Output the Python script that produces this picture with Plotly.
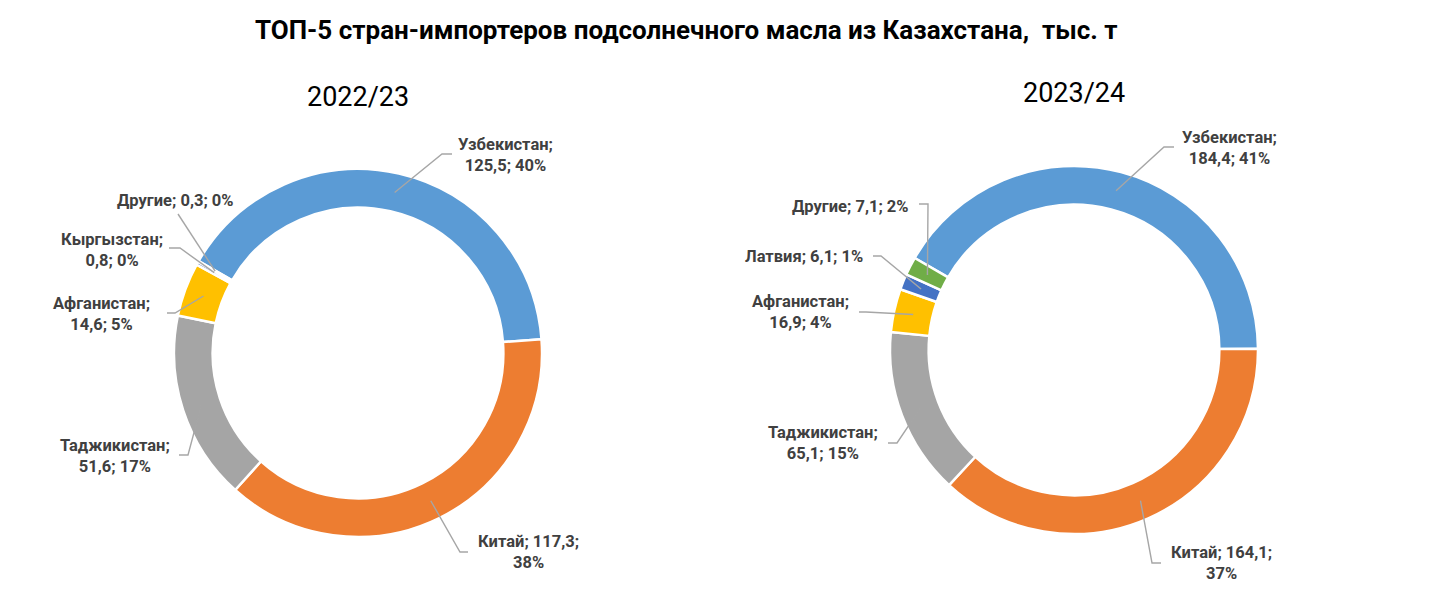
import math
import plotly.graph_objects as go

W, H = 1432, 591

# 2022/23
countries_1 = ["Узбекистан", "Китай", "Таджикистан", "Афганистан", "Кыргызстан", "Другие"]
values_1 = [125.5, 117.3, 51.6, 14.6, 0.8, 0.3]
shares_1 = [40, 38, 17, 5, 0, 0]

# 2023/24
countries_2 = ["Узбекистан", "Китай", "Таджикистан", "Афганистан", "Латвия", "Другие"]
values_2 = [184.4, 164.1, 65.1, 16.9, 6.1, 7.1]
shares_2 = [41, 37, 15, 4, 1, 2]

colors_1 = ["#5B9BD5", "#ED7D31", "#A5A5A5", "#FFC000", "#4472C4", "#70AD47"]
colors_2 = ["#5B9BD5", "#ED7D31", "#A5A5A5", "#FFC000", "#4472C4", "#70AD47"]

FONT = "Roboto"
ROT = -60
HOLE = 0.79
R = 184


def px(x):
    return x / W


def py(y):
    return 1 - y / H


def label_text(name, val, pct, wrap):
    v = f"{val:.1f}".replace(".", ",")
    if wrap == "name":
        return f"{name};<br>{v}; {pct}%"
    if wrap == "value":
        return f"{name}; {v};<br>{pct}%"
    return f"{name}; {v}; {pct}%"


# label layout per slice: text centre, elbow, line end, wrap style
labels_1 = [
    (505, 155, 442, 154, 452, "name"),
    (528, 552, 460, 552, 468, "value"),
    (115, 456, 188, 455, 179, "name"),
    (101, 314, 175, 313, 167, "name"),
    (112, 250, 180, 248, 169, "name"),
    (175, 200, 178, 214, 178, None),
]
labels_2 = [
    (1229, 148, 1164, 147, 1174, "name"),
    (1221, 563, 1152, 563, 1161, "value"),
    (823, 443, 897, 443, 888, "name"),
    (800, 312, 866, 312, 859, "name"),
    (804, 256, 881, 256, 873, None),
    (851, 206, 928, 204, 919, None),
]

charts = [
    (countries_1, values_1, shares_1, colors_1, labels_1, (358, 353), "2022/23", 97),
    (countries_2, values_2, shares_2, colors_2, labels_2, (1074, 350), "2023/24", 93),
]

fig = go.Figure()
shapes = []
annotations = []

for names, vals, pcts, cols, labs, (cx, cy), year, year_y in charts:
    fig.add_trace(go.Pie(
        labels=names, values=vals, hole=HOLE, sort=False,
        direction="clockwise", rotation=ROT,
        marker=dict(colors=cols, line=dict(color="white", width=2.5)),
        textinfo="none", hoverinfo="label+value+percent", showlegend=False,
        domain=dict(x=[px(cx - R), px(cx + R)], y=[py(cy + R), py(cy - R)]),
    ))
    total = sum(vals)
    cum = 0
    r_mid = R * (1 + HOLE) / 2
    for name, v, p, (tx, ty, ex, ey, hx, wrap) in zip(names, vals, pcts, labs):
        ang = math.radians(ROT + 360 * (cum + v / 2) / total)
        cum += v
        sx = cx + r_mid * math.sin(ang)
        sy = cy - r_mid * math.cos(ang)
        shapes.append(dict(
            type="path", xref="paper", yref="paper", layer="above",
            path=f"M {px(sx)},{py(sy)} L {px(ex)},{py(ey)} L {px(hx)},{py(ey)}",
            line=dict(color="#A6A6A6", width=1.4),
        ))
        annotations.append(dict(
            x=px(tx), y=py(ty), xref="paper", yref="paper",
            text=label_text(name, v, p, wrap), showarrow=False,
            xanchor="center", yanchor="middle", align="center",
            font=dict(family=FONT, size=16.5, color="#404040", weight="bold"),
        ))
    annotations.append(dict(
        x=px(cx), y=py(year_y), xref="paper", yref="paper", text=year,
        showarrow=False, xanchor="center", yanchor="middle",
        font=dict(family=FONT, size=27, color="#000000"),
    ))

annotations.append(dict(
    x=px(686), y=py(30), xref="paper", yref="paper",
    text="ТОП-5 стран-импортеров подсолнечного масла из Казахстана,  тыс. т",
    showarrow=False, xanchor="center", yanchor="middle",
    font=dict(family=FONT, size=26, color="#000000", weight="bold"),
))

fig.update_layout(
    width=W, height=H,
    margin=dict(l=0, r=0, t=0, b=0),
    paper_bgcolor="white", plot_bgcolor="white",
    shapes=shapes,
    annotations=annotations,
)

fig.write_html("out.html", config={"displayModeBar": False},
               post_script="document.body.style.margin='0';")
